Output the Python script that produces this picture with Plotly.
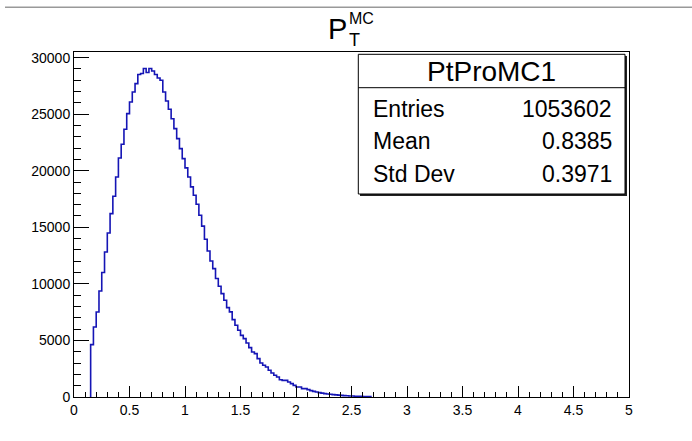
import plotly.graph_objects as go

# ---------------- data ----------------
hist_name = "PtProMC1"
title_main = "P"
title_sup = "MC"
title_sub = "T"
stat_labels = ["Entries", "Mean", "Std Dev"]
stat_values = ["1053602", "0.8385", "0.3971"]

bin_width = 0.025
first_bin_low_edge = 0.15
counts = [
    4630, 6190, 7515, 9370, 11000, 12820, 14500, 16210, 17740, 19450,
    21130, 22340, 23670, 25050, 26080, 26960, 27700, 28500, 28590, 29030,
    28680, 29030, 28820, 28500, 28200, 28000, 26960, 26170, 25430, 24600,
    23720, 22840, 21950, 21070, 20250, 19450, 18570, 17830, 17040, 16070,
    15100, 13950, 12900, 12020, 11350, 10470, 9790, 9140, 8550, 7900,
    7520, 6840, 6340, 5900, 5450, 5160, 4770, 4360, 3980, 3830,
    3390, 3010, 2800, 2650, 2360, 2120, 1920, 1770, 1530, 1470,
    1470, 1330, 1180, 1030, 880, 880, 740, 740, 650, 560,
    500, 440, 390, 340, 300, 270, 240, 210, 185, 165,
    145, 125, 110, 95, 85, 72, 62, 53, 45, 38, 30,
]
x_tick_vals = [0, 0.5, 1, 1.5, 2, 2.5, 3, 3.5, 4, 4.5, 5]
x_tick_text = ["0", "0.5", "1", "1.5", "2", "2.5", "3", "3.5", "4", "4.5", "5"]
y_tick_vals = [0, 5000, 10000, 15000, 20000, 25000, 30000]
y_tick_text = ["0", "5000", "10000", "15000", "20000", "25000", "30000"]

# ---------------- layout geometry ----------------
W, H = 692, 441
L, R, T, B = 74, 63, 52, 44
PW, PH = W - L - R, H - T - B
y_max = 30495


def px(xp):
    return (xp - L) / PW


def py(yp):
    return (H - B - yp) / PH


# histogram contour (step line)
edges = [first_bin_low_edge + i * bin_width for i in range(len(counts) + 1)]
xs = [edges[0]] + edges[:-1] + [edges[-1]]
ys = [0] + counts + [0]

FONT = "Liberation Sans, Arial, Helvetica, sans-serif"

fig = go.Figure()
fig.add_trace(go.Scatter(
    x=xs, y=ys, mode="lines", line=dict(shape="hv", color="#1515b5", width=1.6),
    hoverinfo="skip", showlegend=False,
))

axis_common = dict(
    showline=True, linecolor="black", linewidth=1, mirror=True,
    showgrid=False, zeroline=False, ticks="inside", tickcolor="black",
    tickwidth=1, tickfont=dict(family=FONT, size=14, color="black"),
)

fig.update_xaxes(
    range=[0, 5], tickvals=x_tick_vals, ticktext=x_tick_text, ticklen=11,
    minor=dict(dtick=0.1, ticklen=5, ticks="inside", tickcolor="black", tickwidth=1),
    **axis_common,
)
fig.update_yaxes(
    range=[0, y_max], tickvals=y_tick_vals, ticktext=y_tick_text, ticklen=15,
    minor=dict(dtick=1000, ticklen=7, ticks="inside", tickcolor="black", tickwidth=1),
    **axis_common,
)

shapes = []
# gray line at very top
shapes.append(dict(type="line", xref="paper", yref="paper",
                   x0=px(5), x1=px(692), y0=py(7.3), y1=py(7.3),
                   line=dict(color="#999999", width=1.6)))
# stats box shadow
shapes.append(dict(type="rect", xref="paper", yref="paper",
                   x0=px(360), x1=px(627), y0=py(196), y1=py(56),
                   line=dict(width=0), fillcolor="#222222", layer="above"))
# stats box
shapes.append(dict(type="rect", xref="paper", yref="paper",
                   x0=px(358.3), x1=px(625), y0=py(194), y1=py(54.3),
                   line=dict(color="black", width=1), fillcolor="white", layer="above"))
# divider under title
shapes.append(dict(type="line", xref="paper", yref="paper",
                   x0=px(358.3), x1=px(625), y0=py(87.7), y1=py(87.7),
                   line=dict(color="black", width=1), layer="above"))

annotations = []
# title
annotations.append(dict(text=title_main, xref="paper", yref="paper", x=px(347.5), y=py(28.5),
                        xanchor="right", yanchor="middle", showarrow=False, borderpad=0,
                        font=dict(family=FONT, size=29, color="black")))
annotations.append(dict(text=title_sup, xref="paper", yref="paper", x=px(347.5), y=py(18),
                        xanchor="left", yanchor="middle", showarrow=False, borderpad=0,
                        font=dict(family=FONT, size=16, color="black")))
annotations.append(dict(text=title_sub, xref="paper", yref="paper", x=px(348), y=py(40.5),
                        xanchor="left", yanchor="middle", showarrow=False, borderpad=0,
                        font=dict(family=FONT, size=18, color="black")))
# stats title
annotations.append(dict(text=hist_name, xref="paper", yref="paper", x=px(491.6), y=py(71),
                        xanchor="center", yanchor="middle", showarrow=False,
                        font=dict(family=FONT, size=28, color="black")))
row_y = [109, 141, 173.5]
for lab, val, yy in zip(stat_labels, stat_values, row_y):
    annotations.append(dict(text=lab, xref="paper", yref="paper", x=px(371), y=py(yy),
                            xanchor="left", yanchor="middle", showarrow=False,
                            font=dict(family=FONT, size=23, color="black")))
    annotations.append(dict(text=val, xref="paper", yref="paper", x=px(614), y=py(yy),
                            xanchor="right", yanchor="middle", showarrow=False,
                            font=dict(family=FONT, size=23, color="black")))

fig.update_layout(
    width=W, height=H, margin=dict(l=L, r=R, t=T, b=B, pad=0),
    paper_bgcolor="white", plot_bgcolor="white",
    shapes=shapes, annotations=annotations, showlegend=False,
)

fig.write_html("out.html", config={"displayModeBar": False},
               post_script="document.body.style.margin='0';document.body.style.padding='0';")
